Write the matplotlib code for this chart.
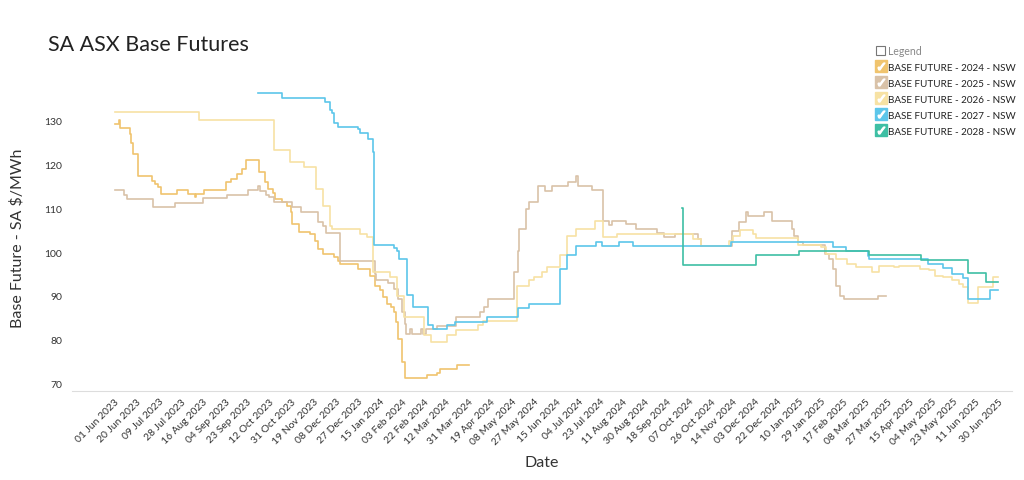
import matplotlib
matplotlib.use("Agg")
import matplotlib.pyplot as plt
import matplotlib.dates as mdates
from matplotlib.lines import Line2D
from matplotlib.patches import Patch
import pandas as pd

plt.rcParams.update({
    "font.family": ["Lato", "DejaVu Sans"],
    "axes.spines.top": False, "axes.spines.right": False,
    "axes.spines.left": False,
})

# change points (value held until the next date)
d2024 = ["2023-06-01", "2023-06-05", "2023-06-06", "2023-06-14", "2023-06-15", "2023-06-17",
         "2023-06-21", "2023-07-03", "2023-07-06", "2023-07-08", "2023-07-11", "2023-07-25",
         "2023-08-03", "2023-08-09", "2023-08-10", "2023-08-17", "2023-09-05", "2023-09-09",
         "2023-09-14", "2023-09-19", "2023-09-22", "2023-10-03", "2023-10-08", "2023-10-11",
         "2023-10-15", "2023-10-17", "2023-10-23", "2023-10-27", "2023-10-31", "2023-11-01",
         "2023-11-07", "2023-11-16", "2023-11-20", "2023-11-23", "2023-11-27", "2023-12-07",
         "2023-12-10", "2023-12-12", "2023-12-27", "2024-01-07", "2024-01-11", "2024-01-15",
         "2024-01-18", "2024-01-21", "2024-01-25", "2024-01-27", "2024-01-29", "2024-01-31",
         "2024-02-03", "2024-02-06", "2024-02-25", "2024-03-04", "2024-03-07", "2024-03-22",
         "2024-04-01"]
v2024 = [129.2, 130.2, 128.3, 127.0, 125.0, 122.4,
         117.4, 116.3, 115.5, 114.8, 113.3, 114.2,
         113.3, 112.5, 113.3, 114.2, 115.9, 116.7,
         117.8, 119.0, 121.1, 118.2, 115.9, 114.4,
         113.5, 112.1, 111.5, 110.6, 109.1, 106.4,
         104.5, 104.1, 102.6, 100.7, 99.6, 98.8,
         98.0, 97.3, 96.1, 94.6, 92.3, 91.2,
         89.7, 88.2, 87.5, 86.3, 84.0, 80.2,
         74.8, 71.2, 71.9, 72.4, 73.3, 74.2,
         74.2]

d2025 = ["2023-06-01", "2023-06-09", "2023-06-12", "2023-07-04", "2023-07-23", "2023-08-16",
         "2023-09-06", "2023-09-24", "2023-10-02", "2023-10-04", "2023-10-09", "2023-10-12",
         "2023-10-16", "2023-11-01", "2023-11-08", "2023-11-23", "2023-11-27", "2023-11-30",
         "2023-12-12", "2024-01-07", "2024-01-11", "2024-01-12", "2024-01-22", "2024-01-27",
         "2024-01-31", "2024-02-03", "2024-02-06", "2024-02-07", "2024-02-10", "2024-02-12",
         "2024-02-20", "2024-02-21", "2024-02-24", "2024-03-04", "2024-03-21", "2024-04-10",
         "2024-04-14", "2024-04-17", "2024-05-10", "2024-05-13", "2024-05-14", "2024-05-20",
         "2024-05-23", "2024-05-30", "2024-06-05", "2024-06-11", "2024-06-25", "2024-07-02",
         "2024-07-04", "2024-07-16", "2024-07-25", "2024-07-30", "2024-08-02", "2024-08-14",
         "2024-08-23", "2024-09-10", "2024-09-16", "2024-09-25", "2024-10-15", "2024-10-18",
         "2024-11-13", "2024-11-19", "2024-11-25", "2024-11-27", "2024-12-11", "2024-12-18",
         "2025-01-04", "2025-01-06", "2025-01-09", "2025-01-13", "2025-02-01", "2025-02-05",
         "2025-02-08", "2025-02-11", "2025-02-14", "2025-02-18", "2025-03-19", "2025-03-26"]
v2025 = [114.2, 113.0, 112.1, 110.4, 111.2, 112.3,
         113.0, 114.2, 115.2, 114.0, 113.0, 112.5,
         111.4, 110.2, 109.2, 106.8, 106.0, 104.3,
         98.0, 98.0, 95.0, 93.5, 93.0, 91.6,
         89.3, 86.3, 83.6, 81.3, 82.3, 81.3,
         82.3, 81.3, 82.3, 83.1, 85.1, 86.3,
         87.5, 89.2, 95.4, 100.3, 105.3, 109.8,
         111.4, 115.2, 114.0, 115.2, 116.1, 117.4,
         115.2, 114.2, 107.2, 106.2, 107.2, 106.5,
         105.3, 104.4, 103.4, 104.1, 103.0, 101.3,
         104.9, 106.8, 109.1, 108.3, 109.2, 107.2,
         105.3, 103.7, 102.2, 101.5, 99.6, 98.4,
         96.1, 92.3, 90.0, 89.3, 90.0, 90.0]

d2026 = ["2023-06-01", "2023-08-13", "2023-10-16", "2023-10-30", "2023-11-11", "2023-11-21",
         "2023-11-27", "2023-12-03", "2023-12-05", "2023-12-29", "2024-01-04", "2024-01-09",
         "2024-01-24", "2024-01-30", "2024-02-05", "2024-02-22", "2024-02-28", "2024-03-13",
         "2024-03-21", "2024-04-09", "2024-04-13", "2024-05-12", "2024-05-23", "2024-05-27",
         "2024-06-03", "2024-06-07", "2024-06-18", "2024-06-24", "2024-07-02", "2024-07-18",
         "2024-07-25", "2024-08-06", "2024-10-11", "2024-10-18", "2024-11-11", "2024-11-14",
         "2024-11-20", "2024-12-01", "2024-12-04", "2025-01-09", "2025-01-29", "2025-02-02",
         "2025-02-11", "2025-02-20", "2025-02-28", "2025-03-14", "2025-03-20", "2025-04-02",
         "2025-04-06", "2025-04-24", "2025-05-02", "2025-05-07", "2025-05-14", "2025-05-22",
         "2025-05-28", "2025-05-31", "2025-06-04", "2025-06-13", "2025-06-26", "2025-06-30"]
v2026 = [132.1, 130.2, 123.3, 120.5, 119.4, 114.4,
         110.6, 106.0, 105.3, 104.1, 103.4, 95.5,
         94.3, 90.0, 85.2, 80.9, 79.4, 80.9,
         82.1, 83.2, 84.3, 92.3, 93.5, 94.3,
         95.4, 96.5, 99.2, 103.7, 105.3, 107.2,
         103.4, 104.1, 103.0, 101.3, 102.5, 103.7,
         105.1, 104.1, 103.1, 101.5, 101.1, 99.6,
         98.4, 97.3, 96.5, 95.4, 96.9, 96.5,
         96.9, 96.1, 95.8, 94.6, 94.2, 93.5,
         92.7, 92.0, 88.4, 92.0, 94.3, 94.3]

d2027 = ["2023-10-02", "2023-10-23", "2023-11-29", "2023-12-03", "2023-12-05", "2023-12-07",
         "2023-12-10", "2023-12-27", "2023-12-29", "2024-01-05", "2024-01-09", "2024-01-10",
         "2024-01-27", "2024-01-30", "2024-02-01", "2024-02-08", "2024-02-13", "2024-02-26",
         "2024-03-01", "2024-03-13", "2024-03-20", "2024-04-16", "2024-05-13", "2024-05-23",
         "2024-06-18", "2024-06-24", "2024-07-02", "2024-07-19", "2024-07-24", "2024-08-08",
         "2024-08-20", "2024-11-12", "2025-02-08", "2025-02-19", "2025-03-10", "2025-03-11",
         "2025-05-01", "2025-05-14", "2025-05-22", "2025-05-31", "2025-06-04", "2025-06-23",
         "2025-06-30"]
v2027 = [136.3, 135.3, 134.3, 132.5, 131.9, 129.6,
         128.5, 128.1, 127.2, 125.8, 122.8, 101.5,
         101.0, 100.3, 98.4, 90.2, 87.4, 83.4,
         82.3, 83.2, 84.1, 85.1, 87.2, 88.2,
         96.1, 99.2, 101.3, 102.2, 101.3, 102.2,
         101.3, 102.2, 101.2, 100.3, 99.0, 98.3,
         97.3, 96.3, 95.0, 94.0, 89.3, 91.2,
         91.2]

d2028 = ["2024-10-01", "2024-10-02", "2024-12-04", "2025-01-10", "2025-03-11", "2025-04-25",
         "2025-06-04", "2025-06-20", "2025-06-30"]
v2028 = [110.0, 97.1, 99.2, 100.2, 99.2, 98.2,
         95.2, 93.2, 93.2]

series = [
    ("BASE FUTURE - 2024 - NSW", d2024, v2024, "#F0C46E"),
    ("BASE FUTURE - 2025 - NSW", d2025, v2025, "#D9C2A8"),
    ("BASE FUTURE - 2026 - NSW", d2026, v2026, "#F7E2A4"),
    ("BASE FUTURE - 2027 - NSW", d2027, v2027, "#5CC6EA"),
    ("BASE FUTURE - 2028 - NSW", d2028, v2028, "#3EBFA4"),
]

fig = plt.figure(figsize=(10.24, 4.81), dpi=100)
ax = fig.add_axes([0.070, 0.185, 0.918, 0.638])

for name, d, v, c in series:
    ax.plot(pd.to_datetime(d), v, color=c, lw=1.2, drawstyle="steps-post")

ax.set_xlim(pd.Timestamp("2023-04-25"), pd.Timestamp("2025-07-12"))
ax.set_ylim(68.2, 138.4)
ax.set_yticks(range(70, 131, 10))
ticks = pd.date_range("2023-06-01", "2025-06-30", freq="19D")
ax.set_xticks(ticks)
ax.xaxis.set_major_formatter(mdates.DateFormatter("%d %b %Y"))
ax.tick_params(axis="both", length=0, labelcolor="#333333")
ax.tick_params(axis="y", labelsize=7.5, pad=7)
ax.tick_params(axis="x", labelsize=7.5, pad=4)
plt.setp(ax.get_xticklabels(), rotation=45, ha="right", rotation_mode="anchor")
ax.spines["bottom"].set_color("#dddddd")
ax.set_xlabel("Date", fontsize=11.5, color="#333333", labelpad=6)
ax.set_ylabel("Base Future - SA $/MWh", fontsize=11.5, color="#333333", labelpad=14)

fig.text(0.047, 0.895, "SA ASX Base Futures", fontsize=15.5, color="#222222")

# legend with checkbox style markers
handles = [Patch(facecolor="white", edgecolor="#777777", linewidth=0.8)]
labels = ["Legend"]
for name, d, v, c in series:
    sq = Line2D([], [], marker="s", markersize=8.5, color=c, linestyle="none")
    ck = Line2D([], [], marker=r"$\checkmark$", markersize=5, color="white", linestyle="none")
    handles.append((sq, ck))
    labels.append(name)
leg = ax.legend(handles, labels, loc="upper left", bbox_to_anchor=(0.851, 1.14),
                frameon=False, fontsize=7.1, handlelength=1.0, handleheight=1.0,
                handletextpad=0.3, labelspacing=0.62, borderaxespad=0)
leg.get_texts()[0].set_color("#888888")
leg.get_texts()[0].set_fontsize(7.6)
for t in leg.get_texts()[1:]:
    t.set_color("#222222")

fig.savefig("out.png", dpi=100)
